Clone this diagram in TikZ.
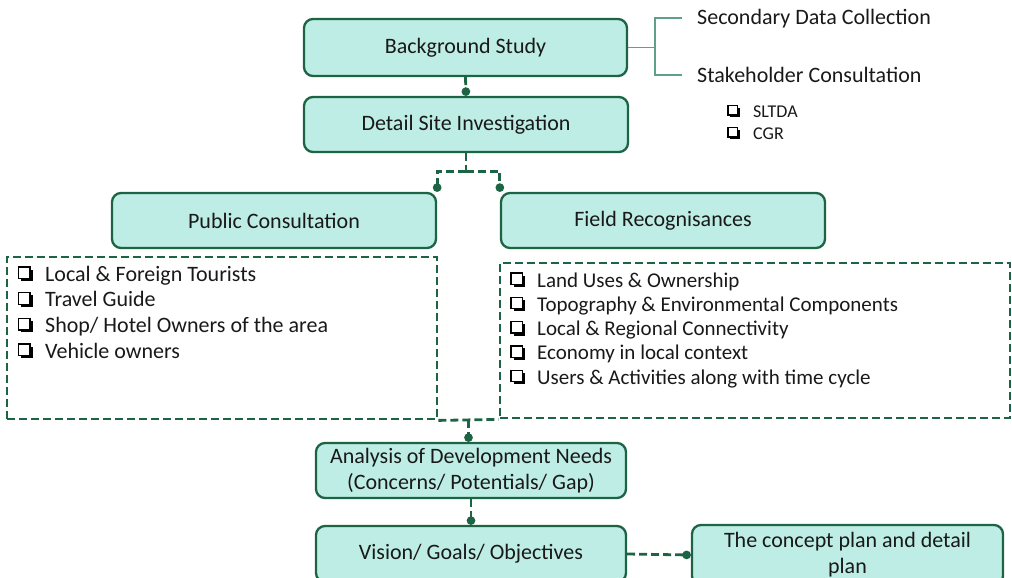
\documentclass[tikz,border=0pt]{standalone}
\usepackage{fontspec}
\setmainfont{Carlito}
\usetikzlibrary{arrows.meta}

\definecolor{boxfill}{RGB}{189,237,228}
\definecolor{boxline}{RGB}{28,100,68}
\definecolor{bracketline}{RGB}{95,160,140}
\definecolor{ink}{RGB}{25,25,25}

\tikzset{
  stage/.style={draw=boxline, line width=2.3pt, fill=boxfill, rounded corners=9pt,
    text=ink, font=\fontsize{22}{26}\selectfont, align=center, inner sep=0pt},
  listframe/.style={draw=boxline, line width=2.8pt, dash pattern=on 8pt off 4pt, inner sep=0pt},
  plainlink/.style={draw=boxline, line width=2.8pt, dash pattern=on 8pt off 4pt},
  link/.style={plainlink, -{Circle[length=8.5pt]}},
  item/.style={anchor=base west, inner sep=0pt, text=ink, font=\fontsize{22}{26}\selectfont},
  narrowitem/.style={item, font=\fontsize{21}{25}\selectfont},
  smallitem/.style={item, font=\fontsize{18}{22}\selectfont},
  bracket/.style={draw=bracketline, line width=1.5pt},
  % shadowed check box, sitting on the baseline
  pics/chkbox/.style={code={
    \fill[black] (#1*0.22,-#1) rectangle (#1*1.22,0);
    \filldraw[fill=white, draw=black, line width=1.3pt]
      (0,-#1*1.22) rectangle (#1,-#1*0.22);
  }},
}

\begin{document}
\begin{tikzpicture}[x=1pt, y=-1pt]
\useasboundingbox (0,0) rectangle (1012,578);
\clip (0,0) rectangle (1012,578);

% main stages
\node[stage, minimum width=323pt, minimum height=57pt] (bs) at (465.5,47.5) {Background Study};
\node[stage, minimum width=324pt, minimum height=55pt] (dsi) at (466,124.5) {Detail Site Investigation};
\node[stage, minimum width=324pt, minimum height=55pt] (pc) at (274,220.5) {Public Consultation};
\node[stage, minimum width=324pt, minimum height=55pt] (fr) at (663,220.5) {Field Recognisances};
\node[stage, minimum width=310pt, minimum height=55pt] (an) at (471,470.5)
  {Analysis of Development Needs\\(Concerns/ Potentials/ Gap)};
\node[stage, minimum width=310pt, minimum height=56pt] (vi) at (471,554) {Vision/ Goals/ Objectives};
\node[stage, minimum width=311pt, minimum height=60pt] (cp) at (847.5,555)
  {The concept plan and detail\\plan};

% dashed item frames
\node[listframe, minimum width=430pt, minimum height=162pt] (pcl) at (222,338) {};
\node[listframe, minimum width=510pt, minimum height=155pt] (frl) at (755,340.5) {};

% public consultation items
\foreach \t [count=\i from 0] in {Local \& Foreign Tourists, Travel Guide,
    Shop/ Hotel Owners of the area, Vehicle owners}
{
  \node[item] (pc\i) at (45,281+25.7*\i) {\t};
  \pic at ([xshift=-26.5pt]pc\i.base west) {chkbox=11.5};
}

% field recognisance items
\foreach \t [count=\i from 0] in {Land Uses \& Ownership,
    Topography \& Environmental Components, Local \& Regional Connectivity,
    Economy in local context, Users \& Activities along with time cycle}
{
  \node[narrowitem] (fr\i) at (537,287+24.3*\i) {\t};
  \pic at ([xshift=-26pt]fr\i.base west) {chkbox=11.5};
}

% background study branches
\node[item] (sdc) at (697,25) {Secondary Data Collection};
\node[item] (skc) at (697,82) {Stakeholder Consultation};
\node[smallitem] (sl) at (753,117) {SLTDA};
\node[smallitem] (cg) at (753,139) {CGR};
\pic at ([xshift=-25pt]sl.base west) {chkbox=9.5};
\pic at ([xshift=-25pt]cg.base west) {chkbox=9.5};

\draw[bracket] (bs.east) -- ++(27,0) coordinate (br);
\draw[bracket] (br) |- ([xshift=-15pt,yshift=7pt]sdc.base west);
\draw[bracket] (br) |- ([xshift=-15pt,yshift=7pt]skc.base west);

% flow connectors
\draw[link] (bs.south) -- (dsi.north);
\draw[plainlink] (dsi.south) -- ++(0,18) coordinate (split);
\draw[link] (split) -| (pc.north east);
\draw[link] (split) -| (fr.north west);
\draw[plainlink] (pcl.south east) -- (frl.south west) coordinate[pos=0.5] (join);
\draw[link] (join) -- (join |- an.north);
\draw[link] (an.south) -- (vi.north);
\draw[link] (vi.east) -- (cp.west);
\end{tikzpicture}
\end{document}
